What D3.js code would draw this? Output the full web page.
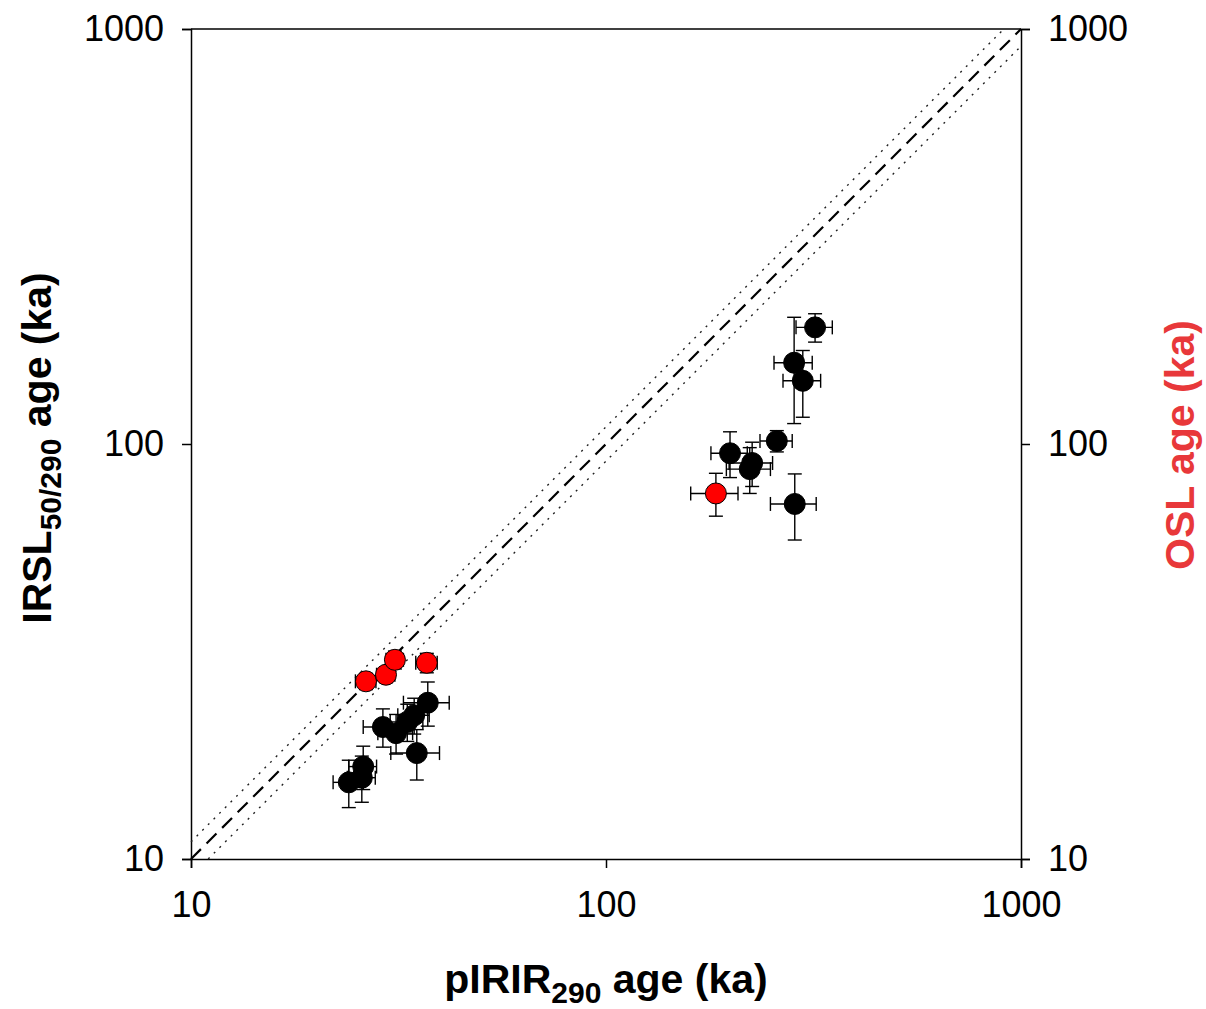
<!DOCTYPE html>
<head>
  <meta charset="utf-8">
  <style>
    body { margin: 0; background: #fff; }
    svg text { font-family: Arial, "Liberation Sans", sans-serif; }
    .tick text { font-size: 36px; fill: #000; }
    .title { font-size: 41px; font-weight: bold; }
  </style>
</head>
<body>
  <svg width=1206 height=1009 id="chart"></svg>
  <script src="https://d3js.org/d3.v7.min.js"></script>
  <script>
    // pIRIR290 ages vs IRSL50/290 ages (black) and OSL ages (red)
    let blackX    = [24.0, 25.8, 26.0, 29.0, 31.2, 33.2, 34.5, 37.2, 35.0, 199, 225, 222, 258, 284, 319, 298, 285];
    let blackY    = [15.3, 15.7, 16.7, 20.8, 20.1, 21.4, 22.2, 23.8, 18.0, 95, 90, 87, 101.7, 157, 191, 142, 71.7];
    let blackXErr = [2, 2, 2, 3, 3, 3, 3, 4.7, 4.7, 20, 27, 27, 23, 30, 32, 31, 36];
    let blackYErr = [2, 2, 2, 2.2, 2.2, 2.2, 2.2, 2.9, 2.5, 12, 11, 11, 6, 45, 15, 26, 13];

    let redX    = [26.4, 29.5, 31.0, 37.0, 184];
    let redY    = [26.8, 27.8, 30.2, 29.7, 76];
    let redXErr = [1.5, 1.5, 1.5, 2.2, 24];
    let redYErr = [1.2, 1.2, 1.5, 1.6, 9];

    let tickVals = [10, 100, 1000];
    let lineRatio = 1.1;   // dotted lines either side of 1:1

    let svg = d3.select("#chart"),
        x = d3.scaleLog().domain([10, 1000]).range([191, 1021]),
        y = d3.scaleLog().domain([10, 1000]).range([859, 29]);

    // top border
    svg.append("line").attr("x1", 191).attr("x2", 1021).attr("y1", 29).attr("y2", 29)
      .attr("stroke", "#000").attr("stroke-width", 1.5);

    let fmt = d3.format("d");
    svg.append("g").attr("transform", "translate(0,859)")
      .call(d3.axisBottom(x).tickValues(tickVals).tickFormat(fmt).tickSize(9).tickPadding(23));
    svg.append("g").attr("transform", "translate(191,0)")
      .call(d3.axisLeft(y).tickValues(tickVals).tickFormat(fmt).tickSize(9).tickPadding(18));
    svg.append("g").attr("transform", "translate(1021,0)")
      .call(d3.axisRight(y).tickValues(tickVals).tickFormat(fmt).tickSize(9).tickPadding(18));

    svg.selectAll(".domain").attr("stroke-width", 1.5);
    svg.selectAll(".tick line").attr("stroke-width", 1.5);
    svg.selectAll(".tick text").attr("font-family", "Arial, 'Liberation Sans', sans-serif");

    // 1:1 line and +/-10% lines
    let diag = svg.append("g");
    diag.append("line")
      .attr("x1", x(10)).attr("y1", y(10)).attr("x2", x(1000)).attr("y2", y(1000))
      .attr("stroke", "#000").attr("stroke-width", 2.2).attr("stroke-dasharray", "14,8");
    diag.append("line")
      .attr("x1", x(10)).attr("y1", y(10 * lineRatio)).attr("x2", x(1000 / lineRatio)).attr("y2", y(1000))
      .attr("stroke", "#222").attr("stroke-width", 1.4).attr("stroke-dasharray", "2,6");
    diag.append("line")
      .attr("x1", x(10 * lineRatio)).attr("y1", y(10)).attr("x2", x(1000)).attr("y2", y(1000 / lineRatio))
      .attr("stroke", "#222").attr("stroke-width", 1.4).attr("stroke-dasharray", "2,6");

    function series(xs, ys, xe, ye, fill) {
      let pts = xs.map((v, i) => ({x: v, y: ys[i], xe: xe[i], ye: ye[i]}));
      let cap = 7;
      let g = svg.append("g").attr("stroke", "#000").attr("stroke-width", 1.4);
      pts.forEach(d => {
        let cx = x(d.x), cy = y(d.y),
            xl = x(d.x - d.xe), xr = x(d.x + d.xe),
            yt = y(d.y + d.ye), yb = y(d.y - d.ye);
        g.append("line").attr("x1", xl).attr("x2", xr).attr("y1", cy).attr("y2", cy);
        g.append("line").attr("x1", xl).attr("x2", xl).attr("y1", cy - cap).attr("y2", cy + cap);
        g.append("line").attr("x1", xr).attr("x2", xr).attr("y1", cy - cap).attr("y2", cy + cap);
        g.append("line").attr("x1", cx).attr("x2", cx).attr("y1", yt).attr("y2", yb);
        g.append("line").attr("x1", cx - cap).attr("x2", cx + cap).attr("y1", yt).attr("y2", yt);
        g.append("line").attr("x1", cx - cap).attr("x2", cx + cap).attr("y1", yb).attr("y2", yb);
      });
      svg.append("g").selectAll("circle")
        .data(pts)
        .enter().append("circle")
        .attr("cx", d => x(d.x))
        .attr("cy", d => y(d.y))
        .attr("r", 10.5)
        .attr("fill", fill)
        .attr("stroke", "#000")
        .attr("stroke-width", 1);
    }
    series(blackX, blackY, blackXErr, blackYErr, "#000");
    series(redX, redY, redXErr, redYErr, "#f00");

    // axis titles
    let xt = svg.append("text").attr("class", "title")
      .attr("x", 606).attr("y", 993).attr("text-anchor", "middle");
    xt.append("tspan").text("pIRIR");
    xt.append("tspan").attr("font-size", "30px").attr("dy", 10).text("290");
    xt.append("tspan").attr("dy", -10).text(" age (ka)");

    let yt = svg.append("text").attr("class", "title")
      .attr("transform", "translate(51,448) rotate(-90)").attr("text-anchor", "middle");
    yt.append("tspan").text("IRSL");
    yt.append("tspan").attr("font-size", "30px").attr("dy", 10).text("50/290");
    yt.append("tspan").attr("dy", -10).text(" age (ka)");

    svg.append("text").attr("class", "title")
      .attr("transform", "translate(1194,445) rotate(-90)").attr("text-anchor", "middle")
      .attr("font-size", "43px")
      .attr("fill", "#e8383a").text("OSL age (ka)");
  </script>
</body>
